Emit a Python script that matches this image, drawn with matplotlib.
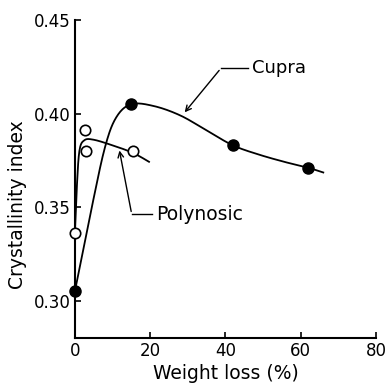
import numpy as np
import matplotlib
matplotlib.use("Agg")
import matplotlib.pyplot as plt

# Measured data points
cupra_x = [0, 15, 42, 62]
cupra_y = [0.305, 0.405, 0.383, 0.371]
poly_x = [0, 2.7, 3.0, 15.4]
poly_y = [0.336, 0.391, 0.380, 0.380]

# Hand-drawn trend curves
cupra_curve_x = [0, 4.5, 8.0, 11.0, 15.0, 21.0, 28.0, 35.0, 42.0, 49.0, 56.0, 62.0, 66.0]
cupra_curve_y = [0.305, 0.350, 0.382, 0.398, 0.405, 0.404, 0.399, 0.391, 0.383, 0.378, 0.374, 0.371, 0.3685]
poly_curve_x = [0, 0.5, 1.2, 2.5, 5.0, 10.0, 15.4, 19.7]
poly_curve_y = [0.336, 0.360, 0.380, 0.3857, 0.3860, 0.3830, 0.379, 0.3742]

x_ticks = [0, 20, 40, 60, 80]
y_ticks = [0.30, 0.35, 0.40, 0.45]
y_ticklabels = ["0.30", "0.35", "0.40", "0.45"]


def catmull_rom(xs, ys, n=20):
    pts = np.column_stack([xs, ys]).astype(float)
    pts = np.vstack([pts[0], pts, pts[-1]])
    out = []
    for i in range(1, len(pts) - 2):
        p0, p1, p2, p3 = pts[i - 1], pts[i], pts[i + 1], pts[i + 2]
        for t in np.linspace(0, 1, n, endpoint=False):
            t2, t3 = t * t, t * t * t
            out.append(0.5 * ((2 * p1) + (-p0 + p2) * t
                              + (2 * p0 - 5 * p1 + 4 * p2 - p3) * t2
                              + (-p0 + 3 * p1 - 3 * p2 + p3) * t3))
    out.append(pts[-2])
    out = np.array(out)
    return out[:, 0], out[:, 1]


plt.rcParams['font.family'] = ['DejaVu Sans']
fig = plt.figure(figsize=(3.88, 3.85), dpi=100)
ax = fig.add_axes([0.193, 0.122, 0.776, 0.826])

cx, cy = catmull_rom(cupra_curve_x, cupra_curve_y)
px, py = catmull_rom(poly_curve_x, poly_curve_y)
ax.plot(cx, cy, color='black', lw=1.3, zorder=2)
ax.plot(px, py, color='black', lw=1.3, zorder=2)

ax.plot(cupra_x, cupra_y, 'o', ms=8, mfc='black', mec='black', zorder=3, clip_on=False)
ax.plot(poly_x, poly_y, 'o', ms=7.5, mfc='white', mec='black', mew=1.2, zorder=3, clip_on=False)

ax.set_xlim(0, 80)
ax.set_ylim(0.28, 0.45)
ax.set_xticks(x_ticks)
ax.set_yticks(y_ticks)
ax.set_yticklabels(y_ticklabels)
ax.tick_params(direction='in', length=4, width=1.2, labelsize=12, pad=3)
for s in ['top', 'right']:
    ax.spines[s].set_visible(False)
for s in ['left', 'bottom']:
    ax.spines[s].set_linewidth(1.5)

ax.set_xlabel("Weight loss (%)", fontsize=13.5)
ax.xaxis.set_label_coords(0.5, -0.082)
ax.set_ylabel("Crystallinity index", fontsize=13.5)
ax.yaxis.set_label_coords(-0.16, 0.42)

# Cupra annotation
ax.plot([38.8, 46.0], [0.4242, 0.4242], color='black', lw=1.0)
ax.annotate("", xy=(28.7, 0.3995), xytext=(38.8, 0.4242),
            arrowprops=dict(arrowstyle='->', color='black', lw=1.0))
ax.text(47.0, 0.4242, "Cupra", fontsize=13, va='center', ha='left')

# Polynosic annotation
ax.plot([15.1, 20.5], [0.3462, 0.3462], color='black', lw=1.0)
ax.annotate("", xy=(11.7, 0.3817), xytext=(15.1, 0.3462),
            arrowprops=dict(arrowstyle='->', color='black', lw=1.0))
ax.text(21.5, 0.3462, "Polynosic", fontsize=13.5, va='center', ha='left')

fig.savefig("out.png", dpi=100)
